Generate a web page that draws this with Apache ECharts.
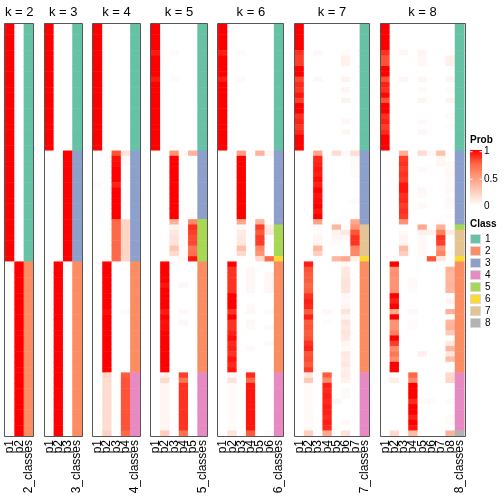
<!DOCTYPE html>
<html><head><meta charset="utf-8">
<script src="https://cdn.jsdelivr.net/npm/echarts/dist/echarts.min.js"></script>
<style>html,body{margin:0;padding:0;background:#fff}#c{width:504px;height:504px}</style>
</head><body><div id="c"></div>
<script>
// ---------- DATA (membership probabilities in %, rows in display order) ----------
const kList = [2, 3, 4, 5, 6, 7, 8];
const classColors = ['#66C2A5', '#FC8D62', '#8DA0CB', '#E78AC3', '#A6D854', '#FFD92F', '#E5C494', '#B3B3B3'];
const legendTicks = ['1', '0.5', '0'];

const probK2 = [
 [100,100,100,100,100,100, 100,100,100,100,100,100, 100,100,100,100,100,100, 100,100,100,100,100,100,
  100,100,100,100,100,100,100, 100,100,100,100,100,100,100, 100,100,100,100,100,100,100,
  0,0,0,0,0,0,0, 0,0,0,0,0,0,0, 0,0,0,0,0,0,0,
  0,0,0,0,0,0, 0,0,0,0,0,0],
 [0,0,0,0,0,0, 0,0,0,0,0,0, 0,0,0,0,0,0, 0,0,0,0,0,0,
  0,0,0,0,0,0,0, 0,0,0,0,0,0,0, 0,0,0,0,0,0,0,
  100,100,100,100,100,100,100, 100,100,100,100,100,100,100, 100,100,100,100,100,100,100,
  100,100,100,100,100,100, 100,100,100,100,100,100]
];
const classK2 = [1,1,1,1,1,1, 1,1,1,1,1,1, 1,1,1,1,1,1, 1,1,1,1,1,1,
  1,1,1,1,1,1,1, 1,1,1,1,1,1,1, 1,1,1,1,1,1,1,
  2,2,2,2,2,2,2, 2,2,2,2,2,2,2, 2,2,2,2,2,2,2,
  2,2,2,2,2,2, 2,2,2,2,2,2];

const probK3 = [
 [100,100,100,100,100,100, 100,100,100,100,100,100, 100,100,100,100,100,100, 100,100,100,100,100,100,
  0,0,0,0,0,0,0, 0,0,0,0,0,0,0, 0,0,0,0,0,0,0,
  0,0,0,0,0,0,0, 0,0,0,0,0,0,0, 0,0,0,0,0,0,0,
  0,0,0,0,0,0, 0,0,0,0,0,0],
 [0,0,0,0,0,0, 0,0,0,0,0,0, 0,0,0,0,0,0, 0,0,0,0,0,0,
  0,0,0,0,0,0,0, 0,0,0,0,0,0,0, 0,0,0,0,0,0,0,
  100,100,100,100,100,100,100, 100,100,100,100,100,100,100, 100,100,100,100,100,100,100,
  100,100,100,100,100,100, 100,100,100,100,100,100],
 [0,0,0,0,0,0, 0,0,0,0,0,0, 0,0,0,0,0,0, 0,0,0,0,0,0,
  100,100,100,100,100,100,100, 100,100,100,100,100,100,100, 100,100,100,100,100,100,100,
  0,0,0,0,0,0,0, 0,0,0,0,0,0,0, 0,0,0,0,0,0,0,
  0,0,0,0,0,0, 0,0,0,0,0,0]
];
const classK3 = [1,1,1,1,1,1, 1,1,1,1,1,1, 1,1,1,1,1,1, 1,1,1,1,1,1,
  3,3,3,3,3,3,3, 3,3,3,3,3,3,3, 3,3,3,3,3,3,3,
  2,2,2,2,2,2,2, 2,2,2,2,2,2,2, 2,2,2,2,2,2,2,
  2,2,2,2,2,2, 2,2,2,2,2,2];

const probK4 = [
 [100,100,100,100,100,100, 100,100,100,100,100,100, 100,100,100,100,100,100, 100,100,100,100,100,100,
  0,0,0,0,0,0,3, 0,0,0,0,0,0,0, 0,0,0,0,0,0,0,
  0,0,0,0,0,0,0, 0,0,0,0,0,0,0, 0,0,0,0,0,0,0,
  0,0,0,0,0,0, 0,0,0,0,0,0],
 [0,0,0,0,0,0, 0,0,0,0,0,0, 0,0,0,0,0,0, 0,0,0,0,0,0,
  0,0,0,0,0,0,0, 0,0,0,0,0,0,0, 0,0,0,0,0,0,0,
  100,100,100,100,100,100,100, 100,100,97,100,100,100,100, 100,100,100,100,100,100,100,
  22,18,18,18,18,18, 18,18,18,18,18,24],
 [0,0,0,0,0,0, 0,0,0,0,0,0, 0,0,0,0,0,0, 0,0,0,0,0,0,
  80,96,97,100,100,100,92, 100,100,100,100,100,100,75, 75,75,75,75,75,75,75,
  0,0,0,0,0,0,0, 0,0,0,0,0,0,0, 0,0,0,0,0,0,0,
  0,0,0,0,0,0, 0,0,0,0,0,0],
 [0,0,0,0,0,0, 0,0,0,0,0,0, 0,0,0,0,0,0, 0,0,0,0,0,0,
  15,3,2,0,0,0,0, 0,0,0,0,0,0,22, 22,22,22,22,22,22,22,
  0,0,0,0,0,0,0, 0,0,3,0,0,0,0, 0,0,0,0,0,0,0,
  78,80,80,80,80,80, 80,80,80,80,80,74]
];
const classK4 = [1,1,1,1,1,1, 1,1,1,1,1,1, 1,1,1,1,1,1, 1,1,1,1,1,1,
  3,3,3,3,3,3,3, 3,3,3,3,3,3,3, 3,3,3,3,3,3,3,
  2,2,2,2,2,2,2, 2,2,2,2,2,2,2, 2,2,2,2,2,2,2,
  4,4,4,4,4,4, 4,4,4,4,4,4];

const probK5 = [
 [100,100,100,100,100,94, 100,100,100,100,94,100, 100,100,100,100,100,100, 100,100,100,100,100,100,
  0,0,0,0,0,0,0, 0,0,0,0,0,0,0, 0,0,0,0,0,0,0,
  0,0,0,0,0,0,0, 0,0,0,0,0,0,0, 0,0,0,0,0,0,0,
  0,0,0,0,0,0, 0,0,0,0,0,0],
 [0,0,0,0,0,0, 0,0,0,0,0,0, 0,0,0,0,0,0, 0,0,0,0,0,0,
  0,0,0,0,0,0,0, 0,0,0,0,0,0,0, 0,0,0,0,0,0,0,
  100,100,100,100,95,100,100, 100,100,94,100,96,97,100, 100,100,100,100,100,100,100,
  7,20,5,5,5,5, 5,5,5,5,5,26],
 [0,0,0,0,0,3, 0,0,0,0,3,0, 0,0,0,0,0,0, 0,0,0,0,0,0,
  55,100,100,100,100,100,100, 100,100,100,100,100,100,40, 7,12,15,15,30,20,0,
  0,0,0,0,0,0,0, 0,0,0,0,0,0,0, 0,0,0,0,0,0,0,
  0,0,0,0,0,0, 0,0,0,0,0,0],
 [0,0,0,0,0,0, 0,0,0,0,0,0, 0,0,0,0,0,0, 0,0,0,0,0,0,
  3,0,0,0,0,0,0, 0,0,0,0,0,0,0, 2,2,2,2,2,2,3,
  0,0,0,0,4,0,0, 0,0,4,0,4,0,0, 0,0,0,0,0,0,0,
  85,70,88,88,88,88, 88,88,88,88,88,70],
 [0,0,0,0,0,0, 0,0,0,0,0,0, 0,0,0,0,0,0, 0,0,0,0,0,0,
  40,0,0,0,0,0,0, 0,0,0,0,0,0,60, 88,85,82,83,68,72,95,
  0,0,0,0,0,0,0, 0,0,0,0,0,0,0, 0,0,0,0,0,0,0,
  0,0,0,0,0,0, 0,0,0,0,0,0]
];
const classK5 = [1,1,1,1,1,1, 1,1,1,1,1,1, 1,1,1,1,1,1, 1,1,1,1,1,1,
  3,3,3,3,3,3,3, 3,3,3,3,3,3,5, 5,5,5,5,5,5,5,
  2,2,2,2,2,2,2, 2,2,2,2,2,2,2, 2,2,2,2,2,2,2,
  4,4,4,4,4,4, 4,4,4,4,4,4];

const probK6 = [
 [100,100,100,100,100,93, 100,100,100,100,93,100, 100,100,100,100,100,100, 100,100,100,100,100,100,
  0,0,0,0,0,0,0, 0,0,0,0,0,0,0, 0,0,0,0,0,0,0,
  0,0,0,0,0,0,0, 0,0,0,0,0,0,0, 0,0,0,0,0,0,0,
  0,0,0,0,0,0, 0,0,0,0,0,0],
 [0,0,0,0,0,0, 0,0,0,0,0,0, 0,0,0,0,0,0, 0,0,0,0,0,0,
  0,0,0,0,0,0,0, 0,0,0,0,0,0,0, 0,0,0,0,0,0,0,
  100,88,88,88,88,88,100, 100,100,88,100,88,88,92, 97,90,92,88,95,90,95,
  3,15,2,2,2,2, 2,2,2,2,2,15],
 [0,0,0,0,0,3, 0,0,0,0,3,0, 0,0,0,0,0,0, 0,0,0,0,0,0,
  50,100,100,100,100,100,100, 100,100,100,100,100,100,45, 3,10,12,12,33,20,0,
  0,0,0,0,0,0,0, 0,0,0,0,0,0,0, 0,0,0,0,0,0,0,
  0,0,0,0,0,0, 0,0,0,0,0,0],
 [0,0,0,0,0,0, 0,0,0,0,0,0, 0,0,0,0,0,0, 0,0,0,0,0,0,
  0,0,0,0,0,0,0, 0,0,0,0,0,0,0, 0,0,0,0,0,0,0,
  0,4,4,4,4,4,0, 0,3,4,0,4,3,0, 0,0,3,0,0,0,0,
  90,75,95,95,95,95, 95,95,95,95,95,78],
 [0,0,0,0,0,0, 0,0,0,0,0,0, 0,0,0,0,0,0, 0,0,0,0,0,0,
  40,0,0,0,0,0,0, 0,0,0,0,0,0,40, 85,78,85,85,60,55,18,
  0,0,0,0,0,0,0, 0,0,0,0,0,0,0, 0,0,0,0,0,0,0,
  0,0,0,0,0,0, 0,0,0,0,0,0],
 [0,0,0,0,0,0, 0,0,0,0,0,0, 0,0,0,0,0,0, 0,0,0,0,0,0,
  4,0,0,0,0,0,0, 0,0,0,0,0,0,0, 10,12,0,0,0,0,75,
  0,0,4,4,4,4,0, 0,0,3,0,0,3,0, 0,3,0,0,0,0,0,
  0,0,0,0,0,0, 0,0,0,0,0,3]
];
const classK6 = [1,1,1,1,1,1, 1,1,1,1,1,1, 1,1,1,1,1,1, 1,1,1,1,1,1,
  3,3,3,3,3,3,3, 3,3,3,3,3,3,3, 5,5,5,5,5,5,6,
  2,2,2,2,2,2,2, 2,2,2,2,2,2,2, 2,2,2,2,2,2,2,
  4,4,4,4,4,4, 4,4,4,4,4,4];

const probK7 = [
 [100,100,100,100,100,88, 85,85,100,100,83,90, 87,95,85,100,100,88, 92,87,90,100,100,100,
  0,0,0,0,0,0,0, 0,0,0,0,0,0,0, 0,0,0,0,0,0,0,
  0,0,0,0,0,0,0, 0,0,0,0,0,0,0, 0,0,0,0,0,0,0,
  0,0,0,0,0,0, 0,0,0,0,0,0],
 [0,0,0,0,0,0, 0,0,0,0,0,0, 0,0,0,0,0,0, 0,0,0,0,0,0,
  0,0,0,0,0,0,0, 0,0,0,0,0,0,0, 0,0,0,0,0,0,0,
  93,80,78,78,75,77,88, 92,90,78,92,78,80,78, 80,88,92,80,82,78,85,
  12,28,3,3,3,3, 3,3,3,3,3,25],
 [0,0,0,0,0,4, 0,0,0,0,4,0, 0,0,0,0,0,0, 0,0,0,0,0,0,
  45,90,92,95,93,97,92, 100,95,98,100,95,100,48, 3,2,5,5,38,25,0,
  0,0,0,0,0,0,0, 0,0,0,0,0,0,0, 0,0,0,0,0,0,0,
  0,0,0,0,0,0, 0,0,0,0,0,0],
 [0,0,0,0,0,0, 0,0,0,0,0,0, 0,0,0,0,0,0, 0,0,0,0,0,0,
  0,0,0,0,0,0,0, 0,0,0,0,0,0,0, 0,0,0,0,0,0,0,
  0,0,0,0,0,0,0, 0,0,4,0,2,0,0, 0,0,0,0,0,0,0,
  78,60,92,90,92,90, 93,92,90,92,90,45],
 [0,0,0,0,0,0, 0,0,0,0,0,0, 0,0,0,0,0,0, 0,0,0,0,0,0,
  18,0,0,0,0,0,0, 0,0,0,0,0,0,2, 38,6,5,3,0,0,38,
  0,0,0,0,0,0,0, 0,0,0,0,0,0,0, 0,0,0,0,0,0,0,
  0,0,0,0,0,5, 0,0,0,0,0,0],
 [0,0,0,0,0,2, 7,7,0,0,6,0, 5,0,6,0,0,0, 4,0,5,0,0,0,
  3,0,0,0,0,0,0, 0,0,0,0,0,0,0, 0,12,4,0,0,0,45,
  3,12,12,14,15,14,4, 3,5,14,5,15,12,14, 12,5,3,12,10,13,8,
  10,7,0,3,3,0, 0,0,0,3,0,15],
 [0,0,0,0,0,0, 0,0,0,0,0,0, 0,0,0,0,0,0, 0,0,0,0,0,0,
  17,3,3,2,2,0,0, 0,0,3,0,0,0,45, 55,80,88,88,62,60,7,
  0,0,0,0,0,0,0, 0,0,0,0,0,0,0, 0,0,0,0,0,0,0,
  0,0,0,0,0,0, 0,0,0,0,0,0]
];
const classK7 = [1,1,1,1,1,1, 1,1,1,1,1,1, 1,1,1,1,1,1, 1,1,1,1,1,1,
  3,3,3,3,3,3,3, 3,3,3,3,3,3,3, 7,7,7,7,7,7,6,
  2,2,2,2,2,2,2, 2,2,2,2,2,2,2, 2,2,2,2,2,2,2,
  4,4,4,4,4,4, 4,4,4,4,4,4];

const probK8 = [
 [100,100,100,100,100,88, 80,80,100,100,80,92, 88,98,80,100,100,88, 92,85,90,100,100,100,
  0,0,0,0,0,0,0, 0,0,0,0,0,0,0, 0,0,0,0,0,0,0,
  0,0,0,0,0,0,0, 0,0,0,0,0,0,0, 0,0,0,0,0,0,0,
  0,0,0,0,0,0, 0,0,0,0,0,0],
 [0,0,0,0,0,0, 0,0,0,0,0,0, 0,0,0,0,0,0, 0,0,0,0,0,0,
  0,0,0,0,0,0,0, 0,0,0,0,0,0,0, 0,0,0,0,0,0,0,
  100,55,58,55,55,56,100, 92,100,45,100,55,55,65, 100,85,58,68,58,100,100,
  0,10,0,0,0,0, 0,0,0,0,0,20],
 [0,0,0,0,0,5, 0,0,0,0,5,0, 0,0,0,0,0,0, 0,0,0,0,0,0,
  40,85,88,85,88,85,95, 95,88,90,85,88,85,55, 0,3,5,5,35,25,0,
  0,0,0,0,0,0,0, 0,0,0,0,0,0,0, 0,0,0,0,0,0,0,
  0,0,0,0,0,0, 0,0,0,0,0,0],
 [0,0,0,0,0,0, 0,0,0,0,0,0, 0,0,0,0,0,0, 0,0,0,0,0,0,
  0,0,0,0,0,0,0, 0,0,0,0,0,0,0, 0,0,0,0,0,0,0,
  0,0,0,3,3,2,0, 0,0,4,0,2,2,0, 0,0,0,0,0,0,0,
  75,60,100,100,100,90, 100,100,92,100,95,35],
 [0,0,0,0,0,5, 4,4,0,0,5,0, 3,0,5,0,0,0, 3,0,4,0,0,0,
  18,0,0,3,0,0,0, 4,3,0,3,0,0,0, 45,8,3,3,3,3,0,
  0,0,0,0,0,0,0, 0,0,0,0,0,0,0, 0,0,0,8,0,0,0,
  0,0,0,0,0,3, 0,0,0,0,0,0],
 [0,0,0,0,0,0, 0,0,0,0,0,0, 0,0,0,0,0,0, 0,0,0,0,0,0,
  4,0,0,0,0,0,0, 0,0,0,0,0,0,0, 0,8,0,0,0,0,80,
  0,0,0,0,0,0,0, 0,0,0,0,0,0,0, 0,0,0,0,0,0,0,
  0,0,0,0,0,3, 0,0,0,0,0,0],
 [0,0,0,0,0,0, 0,0,0,0,0,0, 0,0,0,0,0,0, 0,0,0,0,0,0,
  32,5,5,0,0,0,0, 0,0,0,0,0,0,3, 40,65,88,85,55,62,12,
  0,0,0,0,0,0,0, 0,0,0,0,0,0,0, 0,0,0,0,0,0,0,
  0,0,0,0,0,0, 0,0,0,0,0,0],
 [0,0,0,0,0,0, 8,8,0,0,5,0, 3,0,6,0,0,3, 0,2,0,0,0,0,
  0,0,3,3,4,3,3, 4,2,4,3,0,2,0, 0,10,0,0,0,3,0,
  0,40,38,38,40,38,0, 6,0,40,0,38,40,28, 0,12,38,14,35,0,0,
  20,22,0,0,0,3, 0,0,3,2,0,40]
];
const classK8 = [1,1,1,1,1,1, 1,1,1,1,1,1, 1,1,1,1,1,1, 1,1,1,1,1,1,
  3,3,3,3,3,3,3, 3,3,3,3,3,3,3, 5,7,7,7,7,7,6,
  2,2,2,2,2,2,2, 2,2,2,2,2,2,2, 2,2,2,2,2,2,2,
  4,4,4,4,4,4, 4,4,4,4,4,8];

// ---------- BUILD ----------
const probByK = {2: probK2, 3: probK3, 4: probK4, 5: probK5, 6: probK6, 7: probK7, 8: probK8};
const classByK = {2: classK2, 3: classK3, 4: classK4, 5: classK5, 6: classK6, 7: classK7, 8: classK8};
const nRows = classK2.length;
const rowIds = classK2.map((_, i) => 'r' + i);

const FONT = 'Liberation Sans, Arial, Helvetica, sans-serif';
const colW = 9.3, gapW = 11.4, x0 = 5.3, gTop = 24, gH = 412;

const grids = [], xAxes = [], yAxes = [], probSeries = [], classSeries = [], graphics = [];
let problems = [];
let xCur = x0;
kList.forEach((k, i) => {
  const w = (k + 1) * colW;
  grids.push({left: xCur, top: gTop, width: w, height: gH, containLabel: false});
  const cats = [];
  for (let c = 1; c <= k; c++) cats.push('p' + c);
  cats.push(k + '_classes');
  xAxes.push({type: 'category', gridIndex: i, data: cats, position: 'bottom',
    axisLine: {show: false}, axisTick: {show: false}, splitLine: {show: false},
    axisLabel: {interval: 0, rotate: 90, margin: 4, fontSize: 12, color: '#000', fontFamily: FONT}});
  yAxes.push({type: 'category', gridIndex: i, data: rowIds, inverse: true, show: false});
  const pd = [];
  probByK[k].forEach((col, ci) => {
    if (col.length !== nRows) problems.push('k' + k + ' p' + (ci + 1) + ' len ' + col.length);
    col.forEach((v, ri) => pd.push([ci, ri, v]));
  });
  if (classByK[k].length !== nRows) problems.push('k' + k + ' cls len ' + classByK[k].length);
  probSeries.push({type: 'heatmap', xAxisIndex: i, yAxisIndex: i, data: pd, animation: false,
    emphasis: {disabled: true}, itemStyle: {borderWidth: 0}});
  classSeries.push({type: 'heatmap', xAxisIndex: i, yAxisIndex: i, animation: false,
    emphasis: {disabled: true}, data: classByK[k].map((c, ri) => [k, ri, c])});
  graphics.push({type: 'text', x: xCur + w / 2, y: 12, z: 100,
    style: {text: 'k = ' + k, fontSize: 13, fontFamily: FONT, fill: '#000', textAlign: 'center', textVerticalAlign: 'middle'}});
  graphics.push({type: 'rect', z: 100, shape: {x: Math.round(xCur) - 0.5, y: gTop - 0.5, width: Math.round(w) + 1, height: gH + 1},
    style: {fill: 'none', stroke: '#555', lineWidth: 1}});
  xCur += w + gapW;
});

// legend: Prob colour bar
const lx = 470;
graphics.push({type: 'text', x: lx, y: 140, style: {text: 'Prob', fontSize: 10, fontWeight: 'bold', fontFamily: FONT, fill: '#000', textVerticalAlign: 'middle'}});
graphics.push({type: 'rect', shape: {x: lx, y: 150, width: 12, height: 56},
  style: {fill: new echarts.graphic.LinearGradient(0, 0, 0, 1, [
    {offset: 0, color: '#FF0000'}, {offset: 0.25, color: '#FF6846'}, {offset: 0.5, color: '#FF9E81'},
    {offset: 0.75, color: '#FFCFBF'}, {offset: 1, color: '#FFFFFF'}])}});
[151.7, 179.2].forEach(yy => {
  graphics.push({type: 'line', shape: {x1: lx, y1: yy, x2: lx + 2.5, y2: yy}, style: {stroke: '#fff', lineWidth: 1}, z: 10});
  graphics.push({type: 'line', shape: {x1: lx + 9.5, y1: yy, x2: lx + 12, y2: yy}, style: {stroke: '#fff', lineWidth: 1}, z: 10});
});
[151.7, 179.2, 206.7].forEach((yy, i) => {
  graphics.push({type: 'text', x: lx + 14, y: yy, style: {text: legendTicks[i], fontSize: 10, fontFamily: FONT, fill: '#000', textVerticalAlign: 'middle'}});
});
// legend: Class
graphics.push({type: 'text', x: lx, y: 224, style: {text: 'Class', fontSize: 10, fontWeight: 'bold', fontFamily: FONT, fill: '#000', textVerticalAlign: 'middle'}});
classColors.forEach((c, i) => {
  const yy = 234 + i * 12;
  graphics.push({type: 'rect', shape: {x: lx + 0.5, y: yy + 0.5, width: 10, height: 9}, style: {fill: c, stroke: '#d9d9d9', lineWidth: 1}});
  graphics.push({type: 'text', x: lx + 15, y: yy + 5, style: {text: String(i + 1), fontSize: 10, fontFamily: FONT, fill: '#000', textVerticalAlign: 'middle'}});
});
if (problems.length) graphics.push({type: 'text', x: 5, y: 470, z: 200, style: {text: problems.join('; '), fontSize: 10, fill: 'blue'}});

const chart = echarts.init(document.getElementById('c'), null, {renderer: 'canvas'});
chart.setOption({
  animation: false,
  backgroundColor: '#fff',
  grid: grids,
  xAxis: xAxes,
  yAxis: yAxes,
  visualMap: [
    {type: 'continuous', show: false, min: 0, max: 100, dimension: 2,
      seriesIndex: probSeries.map((_, i) => i),
      inRange: {color: ['#FFFFFF', '#FFCFBF', '#FF9E81', '#FF6846', '#FF0000']}},
    {type: 'piecewise', show: false, dimension: 2,
      seriesIndex: classSeries.map((_, i) => i + probSeries.length),
      pieces: classColors.map((c, i) => ({value: i + 1, color: c}))}
  ],
  series: probSeries.concat(classSeries),
  graphic: graphics
});
</script></body></html>
